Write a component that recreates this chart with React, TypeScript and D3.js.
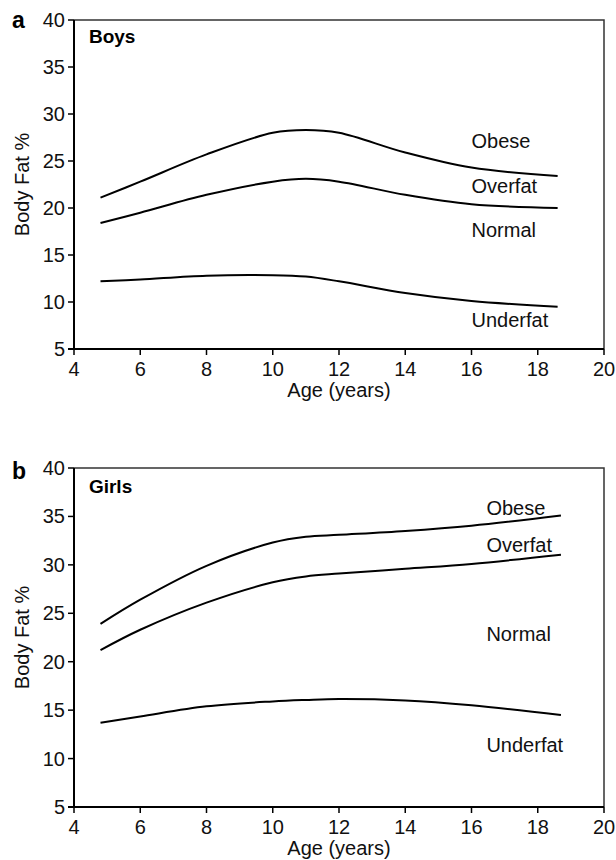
import React from 'react'
import { scaleLinear, line, curveCatmullRom } from 'd3'

const boysAges = [4.8, 6, 8, 10, 11, 12, 14, 16, 18.6]
const boysObese = [21.1, 22.8, 25.7, 28.0, 28.3, 28.0, 25.9, 24.3, 23.4]
const boysOverfat = [18.4, 19.5, 21.4, 22.8, 23.1, 22.8, 21.4, 20.4, 20.0]
const boysUnderfat = [12.2, 12.4, 12.8, 12.85, 12.7, 12.2, 10.95, 10.1, 9.5]

const girlsAges = [4.8, 6, 8, 10, 11, 12, 14, 16, 18.7]
const girlsObese = [23.9, 26.4, 29.9, 32.3, 32.9, 33.1, 33.5, 34.05, 35.1]
const girlsOverfat = [21.2, 23.3, 26.1, 28.2, 28.8, 29.1, 29.6, 30.1, 31.05]
const girlsUnderfat = [13.7, 14.35, 15.4, 15.9, 16.05, 16.15, 16.0, 15.5, 14.5]

const xTicks = [4, 6, 8, 10, 12, 14, 16, 18, 20]
const yTicks = [5, 10, 15, 20, 25, 30, 35, 40]
const zoneNames = ['Obese', 'Overfat', 'Normal', 'Underfat']
const boysZoneY = [27.1, 22.3, 17.7, 8.1]
const girlsZoneY = [35.9, 32.1, 22.9, 11.4]

const FONT = '"Liberation Sans", Arial, sans-serif'

function Panel({ letter, letterDy, title, titleDy, ages, series, zoneY, zoneX, top, bottom }) {
  const x = scaleLinear().domain([4, 20]).range([74, 604])
  const y = scaleLinear().domain([5, 40]).range([bottom, top])
  const path = line().x((d) => x(d[0])).y((d) => y(d[1])).curve(curveCatmullRom.alpha(0.5))
  const left = x(4), right = x(20)

  return (
    <g fontFamily={FONT}>
      {/* top & right frame */}
      <path d={`M${left},${top}H${right}V${bottom}`} fill="none" stroke="#333" strokeWidth={1.5} />
      {/* axes */}
      <line x1={left} x2={left} y1={top} y2={bottom} stroke="#000" strokeWidth={2} />
      <line x1={left - 6} x2={right} y1={bottom} y2={bottom} stroke="#000" strokeWidth={2} />
      {yTicks.map((t) => (
        <g key={'y' + t}>
          <line x1={left - 6} x2={left} y1={y(t)} y2={y(t)} stroke="#000" strokeWidth={1.5} />
          <text x={left - 9} y={y(t)} dy="0.35em" textAnchor="end" fontSize={20} fill="#111">{t}</text>
        </g>
      ))}
      {xTicks.map((t) => (
        <g key={'x' + t}>
          <line x1={x(t)} x2={x(t)} y1={bottom} y2={bottom + 6} stroke="#000" strokeWidth={1.5} />
          <text x={x(t)} y={bottom + 27} textAnchor="middle" fontSize={20} fill="#111">{t}</text>
        </g>
      ))}
      <text x={x(12)} y={bottom + 48} textAnchor="middle" fontSize={20} fill="#111">Age (years)</text>
      <text transform={`translate(29,${y(22.5)}) rotate(-90)`} textAnchor="middle" fontSize={20} fill="#111">Body Fat %</text>
      <text x={12} y={top + letterDy} fontSize={23} fontWeight="bold">{letter}</text>
      <text x={x(4.45)} y={top + titleDy} fontSize={19} fontWeight="bold">{title}</text>
      {series.map((s, i) => (
        <path key={i} d={path(ages.map((a, j) => [a, s[j]]))} fill="none" stroke="#000" strokeWidth={2} />
      ))}
      {zoneNames.map((n, i) => (
        <text key={n} x={x(zoneX)} y={y(zoneY[i])} dy="0.35em" fontSize={20} fill="#111">{n}</text>
      ))}
    </g>
  )
}

export default function App() {
  return (
    <svg width={616} height={860} style={{ position: 'absolute', left: 0, top: 0, background: '#fff' }}>
      <Panel letter="a" letterDy={8} title="Boys" titleDy={23} ages={boysAges}
        series={[boysObese, boysOverfat, boysUnderfat]}
        zoneY={boysZoneY} zoneX={16.0} top={20} bottom={349} />
      <Panel letter="b" letterDy={11} title="Girls" titleDy={25} ages={girlsAges}
        series={[girlsObese, girlsOverfat, girlsUnderfat]}
        zoneY={girlsZoneY} zoneX={16.45} top={468} bottom={807} />
    </svg>
  )
}
